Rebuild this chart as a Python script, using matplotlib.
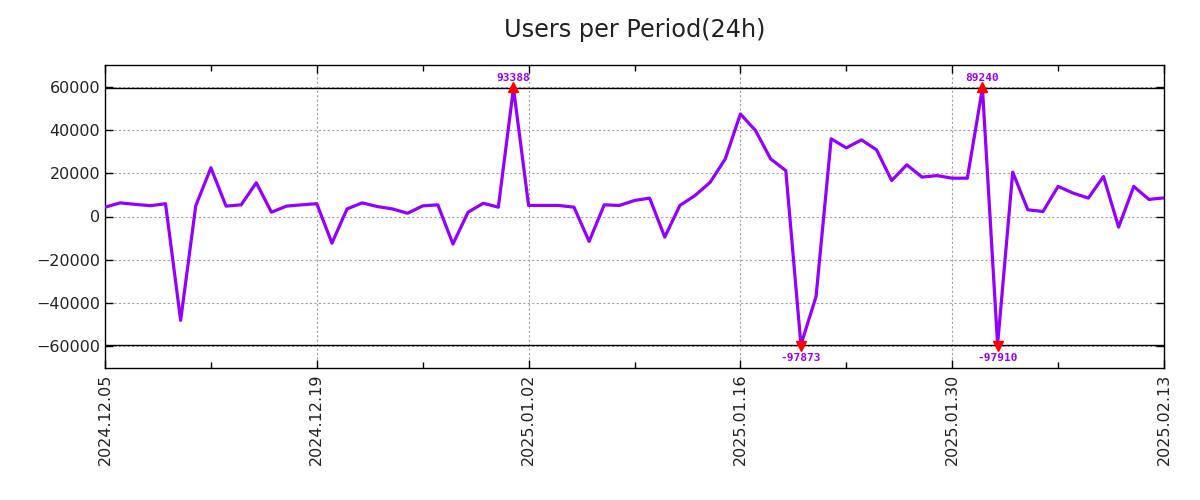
import numpy as np
import pandas as pd
import matplotlib
matplotlib.use('Agg')
import matplotlib.pyplot as plt
import matplotlib.dates as mdates

### Daily user deltas, 2024.12.05 .. 2025.02.13
start_date = '2024-12-05'
users = [4300, 6300, 5600, 5000, 5900, -48000, 5000, 22500, 4800, 5400,
         15600, 2000, 4800, 5400, 5900, -12300, 3500, 6300, 4600, 3500,
         1500, 4900, 5400, -12700, 2000, 6100, 4300, 93388, 5100, 5100,
         5100, 4300, -11500, 5400, 5100, 7400, 8500, -9500, 5100, 9700,
         15800, 26600, 47400, 39700, 26600, 21200, -97873, -37000, 35900, 31700,
         35400, 30800, 16600, 23900, 18200, 18900, 17700, 17700, 89240, -97910,
         20500, 3100, 2300, 13900, 10800, 8500, 18500, -4900, 13900, 7900,
         8600]
clip_level = 59300
title = 'Users per Period(24h)'
line_color = '#9400ff'

dates = pd.date_range(start_date, periods=len(users), freq='D')
values = np.array(users, dtype=float)
shown = np.clip(values, -clip_level, clip_level)

fig = plt.figure(figsize=(12, 5), dpi=100)
ax = fig.add_axes([0.0875, 0.264, 0.8825, 0.606])

### Grid first so it stays under the line
ax.grid(True, which='major', color='#a0a0a0', linestyle=(0, (2, 2)), linewidth=0.8)
ax.set_axisbelow(True)

ax.axhline(clip_level, color='black', linewidth=1.0, zorder=2)
ax.axhline(-clip_level, color='black', linewidth=1.0, zorder=2)

ax.plot(dates, shown, color=line_color, linewidth=2.3, zorder=3)

### Mark clipped points with arrows and their real value
for d, v in zip(dates, values):
    if v > clip_level:
        ax.plot(d, clip_level + 600, marker='^', color='red', markersize=7, zorder=4)
        ax.annotate(f'{int(v)}', (d, clip_level), xytext=(0, 4), textcoords='offset points',
                    ha='center', va='bottom', color=line_color, fontsize=8,
                    family='DejaVu Sans Mono', fontweight='bold')
    elif v < -clip_level:
        ax.plot(d, -clip_level - 600, marker='v', color='red', markersize=7, zorder=4)
        ax.annotate(f'{int(v)}', (d, -clip_level), xytext=(0, -6), textcoords='offset points',
                    ha='center', va='top', color=line_color, fontsize=8,
                    family='DejaVu Sans Mono', fontweight='bold')

ax.set_xlim(dates[0], dates[-1])
ax.set_ylim(-70000, 70000)
ax.set_yticks(np.arange(-60000, 60001, 20000))

ax.set_xticks(pd.date_range(dates[0], dates[-1], freq='14D'))
ax.set_xticks(pd.date_range(dates[0], dates[-1], freq='7D'), minor=True)
ax.xaxis.set_major_formatter(mdates.DateFormatter('%Y.%m.%d'))
plt.setp(ax.get_xticklabels(), rotation=90)

ax.tick_params(axis='both', which='both', direction='in', top=True, right=True,
               labelsize=11.5, colors='black', labelcolor='#222222')
ax.tick_params(which='major', length=6, width=1)
ax.tick_params(which='minor', length=4, width=1)
ax.tick_params(axis='x', pad=4)
for s in ax.spines.values():
    s.set_linewidth(1.0)

### Title is centred over the plot area, not the figure
fig.text(0.5287, 0.94, title, fontsize=17.3, ha='center', va='center', color='#222222')

fig.savefig('out.png', dpi=100)
